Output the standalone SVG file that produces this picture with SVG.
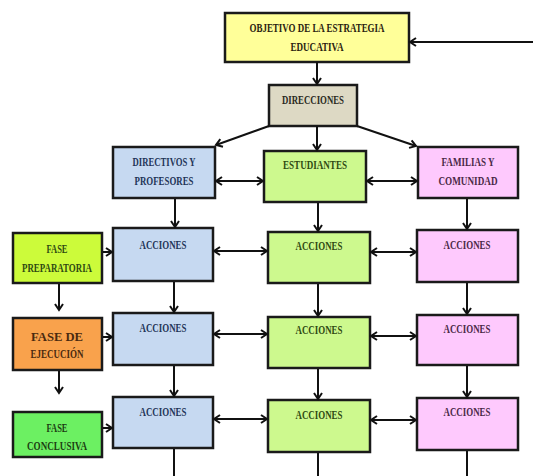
<svg xmlns="http://www.w3.org/2000/svg" width="533" height="476" viewBox="0 0 533 476">
<defs>
<marker id="ah" markerUnits="userSpaceOnUse" markerWidth="10" markerHeight="12" refX="7" refY="5" orient="auto-start-reverse" viewBox="0 0 10 10">
<path d="M1,1 L7,5 L1,9" fill="none" stroke="#111" stroke-width="2"/>
</marker>
</defs>
<style>
.b{stroke:#1a1a1a;stroke-width:2.5}
.t{font-family:"Liberation Serif","Times New Roman",serif;font-weight:bold;font-size:13px;text-anchor:middle}
.c{fill:none;stroke:#111;stroke-width:2}
.blue{fill:#c6d9f1}.green{fill:#cdf98e}.pink{fill:#fec9fd}
.tb{fill:#1f3558}.tg{fill:#2f4a12}.tp{fill:#4a2846}
</style>
<rect width="533" height="476" fill="#fff"/>
<g id="objetivo">
<rect class="b" x="225" y="13" width="184" height="49" fill="#ffff99"/>
<text class="t" x="317" y="32" textLength="135" lengthAdjust="spacingAndGlyphs" fill="#2a2210">OBJETIVO DE LA ESTRATEGIA</text>
<text class="t" x="317" y="51" textLength="53" lengthAdjust="spacingAndGlyphs" fill="#2a2210">EDUCATIVA</text>
</g>
<g id="direcciones">
<rect class="b" x="269" y="85" width="88" height="41" fill="#ddd9c4"/>
<text class="t" x="313" y="104" textLength="62" lengthAdjust="spacingAndGlyphs" fill="#2b2a22">DIRECCIONES</text>
</g>
<g id="directivos">
<rect class="b blue" x="113" y="147" width="102" height="51"/>
<text class="t tb" x="164" y="166" textLength="63" lengthAdjust="spacingAndGlyphs">DIRECTIVOS Y</text>
<text class="t tb" x="164" y="185" textLength="59" lengthAdjust="spacingAndGlyphs">PROFESORES</text>
</g>
<g id="estudiantes">
<rect class="b green" x="264" y="151" width="102" height="51"/>
<text class="t tg" x="315" y="169" textLength="64" lengthAdjust="spacingAndGlyphs">ESTUDIANTES</text>
</g>
<g id="familias">
<rect class="b pink" x="418" y="147" width="100" height="51"/>
<text class="t tp" x="468" y="166" textLength="53" lengthAdjust="spacingAndGlyphs">FAMILIAS Y</text>
<text class="t tp" x="468" y="185" textLength="59" lengthAdjust="spacingAndGlyphs">COMUNIDAD</text>
</g>
<g id="fase-preparatoria">
<rect class="b" x="13" y="233" width="89" height="50" fill="#ccfb3a"/>
<text class="t tg" x="57" y="253" textLength="21" lengthAdjust="spacingAndGlyphs">FASE</text>
<text class="t tg" x="57" y="272" textLength="70" lengthAdjust="spacingAndGlyphs">PREPARATORIA</text>
</g>
<g id="fase-ejecucion">
<rect class="b" x="13" y="318" width="89" height="52" fill="#f9a24c"/>
<text class="t" x="57" y="341" textLength="52" lengthAdjust="spacingAndGlyphs" fill="#4a2a10">FASE DE</text>
<text class="t" x="57" y="358" textLength="53" lengthAdjust="spacingAndGlyphs" fill="#4a2a10">EJECUCIÓN</text>
</g>
<g id="fase-conclusiva">
<rect class="b" x="13" y="412" width="89" height="45" fill="#6cf062"/>
<text class="t" x="57" y="432" textLength="21" lengthAdjust="spacingAndGlyphs" fill="#1d3d12">FASE</text>
<text class="t" x="57" y="450" textLength="60" lengthAdjust="spacingAndGlyphs" fill="#1d3d12">CONCLUSIVA</text>
</g>
<g id="acciones-d1"><rect class="b blue" x="113" y="228" width="100" height="53"/><text class="t tb" x="163" y="249" textLength="47" lengthAdjust="spacingAndGlyphs">ACCIONES</text></g>
<g id="acciones-e1"><rect class="b green" x="268" y="232" width="102" height="51"/><text class="t tg" x="319" y="250" textLength="47" lengthAdjust="spacingAndGlyphs">ACCIONES</text></g>
<g id="acciones-f1"><rect class="b pink" x="417" y="230" width="101" height="52"/><text class="t tp" x="467" y="249" textLength="47" lengthAdjust="spacingAndGlyphs">ACCIONES</text></g>
<g id="acciones-d2"><rect class="b blue" x="113" y="313" width="100" height="52"/><text class="t tb" x="163" y="332" textLength="47" lengthAdjust="spacingAndGlyphs">ACCIONES</text></g>
<g id="acciones-e2"><rect class="b green" x="268" y="317" width="102" height="51"/><text class="t tg" x="319" y="334" textLength="47" lengthAdjust="spacingAndGlyphs">ACCIONES</text></g>
<g id="acciones-f2"><rect class="b pink" x="417" y="315" width="101" height="50"/><text class="t tp" x="467" y="333" textLength="47" lengthAdjust="spacingAndGlyphs">ACCIONES</text></g>
<g id="acciones-d3"><rect class="b blue" x="113" y="397" width="100" height="51"/><text class="t tb" x="163" y="416" textLength="47" lengthAdjust="spacingAndGlyphs">ACCIONES</text></g>
<g id="acciones-e3"><rect class="b green" x="268" y="400" width="102" height="52"/><text class="t tg" x="319" y="419" textLength="47" lengthAdjust="spacingAndGlyphs">ACCIONES</text></g>
<g id="acciones-f3"><rect class="b pink" x="417" y="398" width="101" height="52"/><text class="t tp" x="467" y="416" textLength="47" lengthAdjust="spacingAndGlyphs">ACCIONES</text></g>
<g id="connectors">
<line class="c" x1="533" y1="42" x2="410" y2="42" marker-end="url(#ah)"/>
<line class="c" x1="317" y1="62" x2="317" y2="84" marker-end="url(#ah)"/>
<line class="c" x1="269" y1="126" x2="216" y2="145" marker-end="url(#ah)"/>
<line class="c" x1="317" y1="126" x2="317" y2="150" marker-end="url(#ah)"/>
<line class="c" x1="357" y1="126" x2="416" y2="146" marker-end="url(#ah)"/>
<line class="c" x1="216" y1="181" x2="263" y2="181" marker-start="url(#ah)" marker-end="url(#ah)"/>
<line class="c" x1="367" y1="181" x2="417" y2="181" marker-start="url(#ah)" marker-end="url(#ah)"/>
<line class="c" x1="175" y1="199" x2="175" y2="227" marker-end="url(#ah)"/>
<line class="c" x1="318" y1="203" x2="318" y2="231" marker-end="url(#ah)"/>
<line class="c" x1="467" y1="199" x2="467" y2="229" marker-end="url(#ah)"/>
<line class="c" x1="103" y1="252" x2="112" y2="252" marker-end="url(#ah)"/>
<line class="c" x1="103" y1="337" x2="112" y2="337" marker-end="url(#ah)"/>
<line class="c" x1="103" y1="428" x2="112" y2="428" marker-end="url(#ah)"/>
<line class="c" x1="214" y1="251" x2="267" y2="251" marker-start="url(#ah)" marker-end="url(#ah)"/>
<line class="c" x1="371" y1="252" x2="416" y2="252" marker-start="url(#ah)" marker-end="url(#ah)"/>
<line class="c" x1="214" y1="334" x2="267" y2="334" marker-start="url(#ah)" marker-end="url(#ah)"/>
<line class="c" x1="371" y1="336" x2="416" y2="336" marker-start="url(#ah)" marker-end="url(#ah)"/>
<line class="c" x1="214" y1="419" x2="267" y2="419" marker-start="url(#ah)" marker-end="url(#ah)"/>
<line class="c" x1="371" y1="420" x2="416" y2="420" marker-start="url(#ah)" marker-end="url(#ah)"/>
<line class="c" x1="59" y1="284" x2="59" y2="310" marker-end="url(#ah)"/>
<line class="c" x1="59" y1="371" x2="59" y2="393" marker-end="url(#ah)"/>
<line class="c" x1="174" y1="282" x2="174" y2="312" marker-end="url(#ah)"/>
<line class="c" x1="318" y1="284" x2="318" y2="316" marker-end="url(#ah)"/>
<line class="c" x1="467" y1="283" x2="467" y2="314" marker-end="url(#ah)"/>
<line class="c" x1="174" y1="366" x2="174" y2="396" marker-end="url(#ah)"/>
<line class="c" x1="318" y1="369" x2="318" y2="399" marker-end="url(#ah)"/>
<line class="c" x1="467" y1="366" x2="467" y2="397" marker-end="url(#ah)"/>
<line class="c" x1="174" y1="449" x2="174" y2="476"/>
<line class="c" x1="318" y1="453" x2="318" y2="476"/>
<line class="c" x1="467" y1="451" x2="467" y2="476"/>
</g>
</svg>
